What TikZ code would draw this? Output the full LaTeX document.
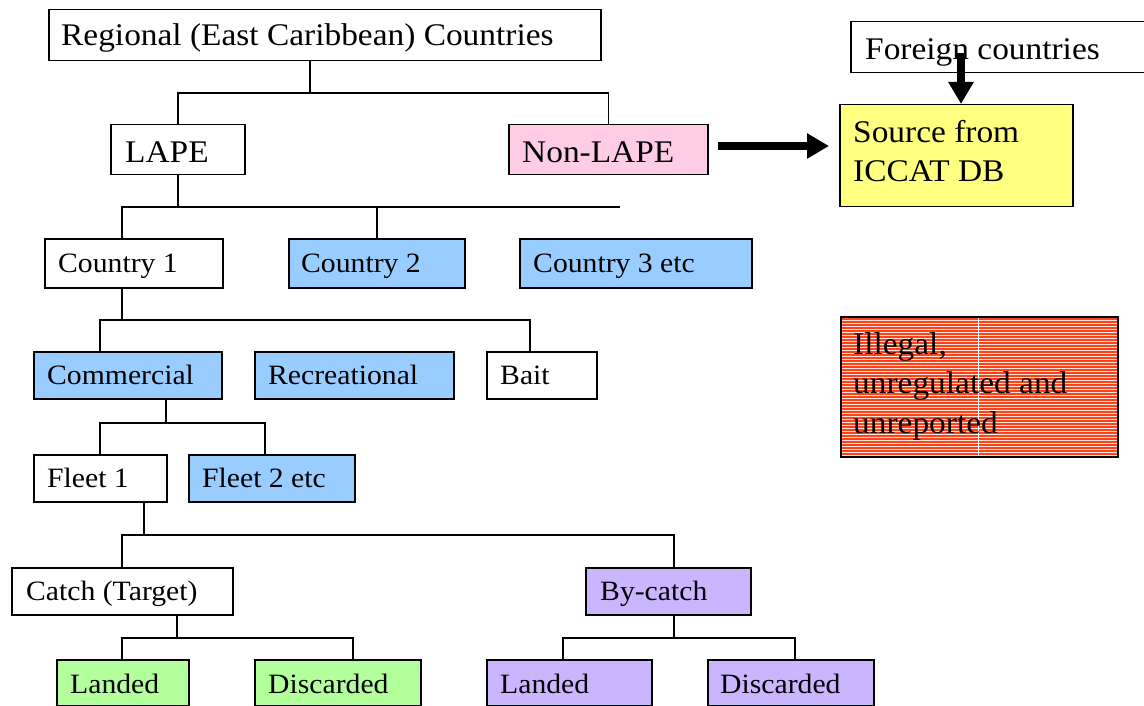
\documentclass[tikz,border=0pt]{standalone}
\usepackage{fontspec}
\setmainfont[FakeStretch=1.06]{Liberation Serif}
\usetikzlibrary{arrows.meta}
\definecolor{cblue}{HTML}{99CCFF}
\definecolor{cpink}{HTML}{FFCCE6}
\definecolor{cyellow}{HTML}{FFFF80}
\definecolor{cgreen}{HTML}{B3FF9C}
\definecolor{cpurple}{HTML}{CCB5FF}
\definecolor{cred}{HTML}{FF4218}
\newcommand\bx[6]{\node[box, fill=#6, minimum width=#4-#2, minimum height=#5-#3] (#1) at (#2,#3) {};}
\begin{document}
\begin{tikzpicture}[x=1pt,y=-1pt,
  box/.style={draw=black, line width=1.5pt, rectangle, inner sep=0pt, anchor=north west},
  big/.style={font=\fontsize{31.5}{39.5}\selectfont, anchor=base west, inner sep=0pt, align=left},
  small/.style={font=\fontsize{28}{34}\selectfont, anchor=base west, inner sep=0pt},
  conn/.style={line width=1.5pt},
  bigarrow/.style={line width=8pt, -{Triangle[length=22pt,width=24pt]}}]
\clip (0,0) rectangle (1144,706);
\fill[white] (0,0) rectangle (1144,706);
% boxes
\bx{reg}{48}{9}{600}{60}{white}
\bx{lape}{110}{124}{244}{174}{white}
\bx{nonlape}{508}{124}{707}{174}{cpink}
\bx{foreign}{850}{21}{1160}{72}{white}
\bx{src}{839}{104}{1072}{206}{cyellow}
\bx{c1}{44}{238}{222}{287}{white}
\bx{c2}{288}{238}{464}{287}{cblue}
\bx{c3}{519}{238}{751}{287}{cblue}
\bx{com}{33}{351}{221}{398}{cblue}
\bx{rec}{254}{351}{453}{398}{cblue}
\bx{bait}{486}{351}{596}{398}{white}
\bx{f1}{33}{454}{166}{501}{white}
\bx{f2}{188}{454}{354}{501}{cblue}
\bx{catch}{11}{567}{232}{614}{white}
\bx{byc}{585}{567}{750}{614}{cpurple}
\bx{l1}{56}{659}{188}{705}{cgreen}
\bx{d1}{254}{659}{420}{705}{cgreen}
\bx{l2}{486}{659}{651}{705}{cpurple}
\bx{d2}{707}{659}{873}{705}{cpurple}
\node[box, fill=cred, minimum width=277, minimum height=140,
  path picture={
    \foreach \k in {0,...,47}
      \draw[white!85!cred, line width=0.7pt] ([yshift=-\k*3pt-1pt]path picture bounding box.north west) -- ([yshift=-\k*3pt-1pt]path picture bounding box.north east);
    \draw[white, line width=0.8pt] ([xshift=138pt]path picture bounding box.north west) -- ([xshift=138pt]path picture bounding box.south west);
  }] (ill) at (840,316) {};
% texts
\node[big] (treg) at (61,46) {Regional (East Caribbean) Countries};
\node[big] (tlape) at (125,163) {LAPE};
\node[big] (tnon) at (522,163) {Non-LAPE};
\node[big] (tfor) at (865,60) {Foreign countries};
\node[big] (tsrc) at (853,182) {Source from\\ICCAT DB};
\node[big] (till) at (853,433) {Illegal,\\unregulated and\\unreported};
\node[small] (tc1) at (58,272) {Country 1};
\node[small] (tc2) at (301,272) {Country 2};
\node[small] (tc3) at (533,272) {Country 3 etc};
\node[small] (tcom) at (47,384) {Commercial};
\node[small] (trec) at (268,384) {Recreational};
\node[small] (tbait) at (500,384) {Bait};
\node[small] (tf1) at (47,487) {Fleet 1};
\node[small] (tf2) at (202,487) {Fleet 2 etc};
\node[small] (tcatch) at (26,600) {Catch (Target)};
\node[small] (tbyc) at (600,600) {By-catch};
\node[small] (tl1) at (70,693) {Landed};
\node[small] (td1) at (268,693) {Discarded};
\node[small] (tl2) at (500,693) {Landed};
\node[small] (td2) at (720,693) {Discarded};
% connectors
\coordinate (j1) at (310,93);
\draw[conn] (reg.south -| j1) -- (j1);
\draw[conn] (lape.north) |- (j1) -| (nonlape.north);
\coordinate (j2s) at (122,207);
\coordinate (j2e) at (620,207);
\draw[conn] (lape.south) -- (lape.south |- j2s);
\draw[conn] (j2s |- c1.north) -- (j2s) -- (j2e);
\draw[conn] (c2.north) -- (c2.north |- j2e);
\coordinate (j3) at (122,320);
\coordinate (j3s) at (100,320);
\coordinate (j3e) at (530,320);
\draw[conn] (j3 |- c1.south) -- (j3);
\draw[conn] (j3s |- com.north) -- (j3s) -- (j3e) -- (j3e |- bait.north);
\coordinate (j4) at (166,423);
\coordinate (j4s) at (100,423);
\coordinate (j4e) at (265,423);
\draw[conn] (j4 |- com.south) -- (j4);
\draw[conn] (j4s |- f1.north) -- (j4s) -- (j4e) -- (j4e |- f2.north);
\coordinate (j5) at (144,535);
\coordinate (j5s) at (122,535);
\coordinate (j5e) at (674,535);
\draw[conn] (j5 |- f1.south) -- (j5);
\draw[conn] (j5s |- catch.north) -- (j5s) -- (j5e) -- (j5e |- byc.north);
\coordinate (j6) at (177,638);
\coordinate (j6s) at (122,638);
\coordinate (j6e) at (353,638);
\draw[conn] (j6 |- catch.south) -- (j6);
\draw[conn] (j6s |- l1.north) -- (j6s) -- (j6e) -- (j6e |- d1.north);
\coordinate (j7) at (674,638);
\coordinate (j7s) at (563,638);
\coordinate (j7e) at (795,638);
\draw[conn] (j7 |- byc.south) -- (j7);
\draw[conn] (j7s |- l2.north) -- (j7s) -- (j7e) -- (j7e |- d2.north);
% arrows
\coordinate (a1) at (718,146);
\draw[bigarrow, shorten >=10pt] (a1) -- (a1 -| src.west);
\coordinate (a2) at (961,53);
\draw[bigarrow] (a2) -- (a2 |- src.north);
\end{tikzpicture}
\end{document}
